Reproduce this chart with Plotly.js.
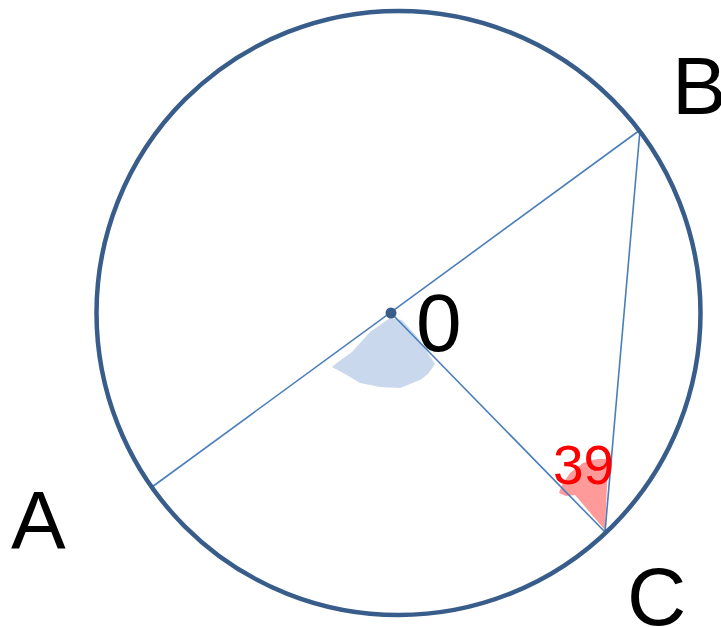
<!DOCTYPE html>
<html>
<head>
<meta charset="utf-8">
<script src="https://cdn.plot.ly/plotly-3.0.1.min.js"></script>
<style>html,body{margin:0;padding:0;background:#fff;}#chart{width:721px;height:627px;}</style>
</head>
<body>
<div id="chart"></div>
<script>
// Points of the figure (diagram units = pixels of the picture)
const pointNames = ['A', 'B', 'C', 'O'];
const pointX = [152, 640, 605, 391];
const pointY = [487, 130, 532, 313];

// Circle
const circleCenter = [398.5, 313];
const circleRadius = [302];

// Segments (by point name)
const segments = [['A', 'B'], ['O', 'C'], ['B', 'C']];

// Labels
const labelText = ['A', 'B', 'C', '0'];
const labelX = [38, 699, 656, 439];
const labelY = [519, 85, 596, 322];

// Angle label
const angleText = ['39'];
const angleX = [583];
const angleY = [465];

// Shaded angle regions (outlines)
const blueBlobX = [390, 402, 418, 435, 428, 420, 400, 380, 360, 345, 332, 338, 352, 370];
const blueBlobY = [318, 320, 338, 364, 374, 380, 388, 387, 383, 374, 367, 362, 352, 332];
const redBlobX = [605, 608, 606, 597, 583, 570, 562, 559, 566, 575];
const redBlobY = [530, 463, 459, 459, 463, 473, 485, 493, 496, 495];

const idx = n => pointNames.indexOf(n);

const lineColor = '#4A7EBB';
const circleColor = '#385D8A';

const traces = segments.map(s => ({
  type: 'scatter', mode: 'lines',
  x: [pointX[idx(s[0])], pointX[idx(s[1])]],
  y: [pointY[idx(s[0])], pointY[idx(s[1])]],
  line: {color: lineColor, width: 1.6},
  hoverinfo: 'skip', showlegend: false
}));

traces.push({
  type: 'scatter', mode: 'markers',
  x: [pointX[idx('O')]], y: [pointY[idx('O')]],
  marker: {color: circleColor, size: 11},
  hoverinfo: 'skip', showlegend: false
});

function pathFrom(xs, ys) {
  return 'M ' + xs.map((x, i) => x + ',' + ys[i]).join(' L ') + ' Z';
}

const shapes = [
  {type: 'path', path: pathFrom(blueBlobX, blueBlobY), xref: 'x', yref: 'y',
   fillcolor: '#C9D8EC', line: {width: 0}, layer: 'below'},
  {type: 'path', path: pathFrom(redBlobX, redBlobY), xref: 'x', yref: 'y',
   fillcolor: '#FF9A9A', line: {width: 0}, layer: 'below'},
  {type: 'circle', xref: 'x', yref: 'y',
   x0: circleCenter[0] - circleRadius[0], x1: circleCenter[0] + circleRadius[0],
   y0: circleCenter[1] - circleRadius[0], y1: circleCenter[1] + circleRadius[0],
   line: {color: circleColor, width: 4.5}, layer: 'above'}
];

const annotations = labelText.map((t, i) => ({
  text: t, x: labelX[i], y: labelY[i], xref: 'x', yref: 'y',
  showarrow: false, xanchor: 'center', yanchor: 'middle',
  font: {family: 'Liberation Sans, Arial, sans-serif', size: 82, color: '#000'}
})).concat(angleText.map((t, i) => ({
  text: t, x: angleX[i], y: angleY[i], xref: 'x', yref: 'y',
  showarrow: false, xanchor: 'center', yanchor: 'middle',
  font: {family: 'Liberation Sans, Arial, sans-serif', size: 55, color: '#FF0000'}
})));

const layout = {
  width: 721, height: 627,
  margin: {l: 0, r: 0, t: 0, b: 0, pad: 0},
  paper_bgcolor: '#fff', plot_bgcolor: '#fff',
  xaxis: {range: [0, 721], visible: false, fixedrange: true},
  yaxis: {range: [627, 0], visible: false, fixedrange: true},
  shapes: shapes,
  annotations: annotations,
  showlegend: false
};

Plotly.newPlot('chart', traces, layout, {displayModeBar: false, staticPlot: true});
</script>
</body>
</html>
